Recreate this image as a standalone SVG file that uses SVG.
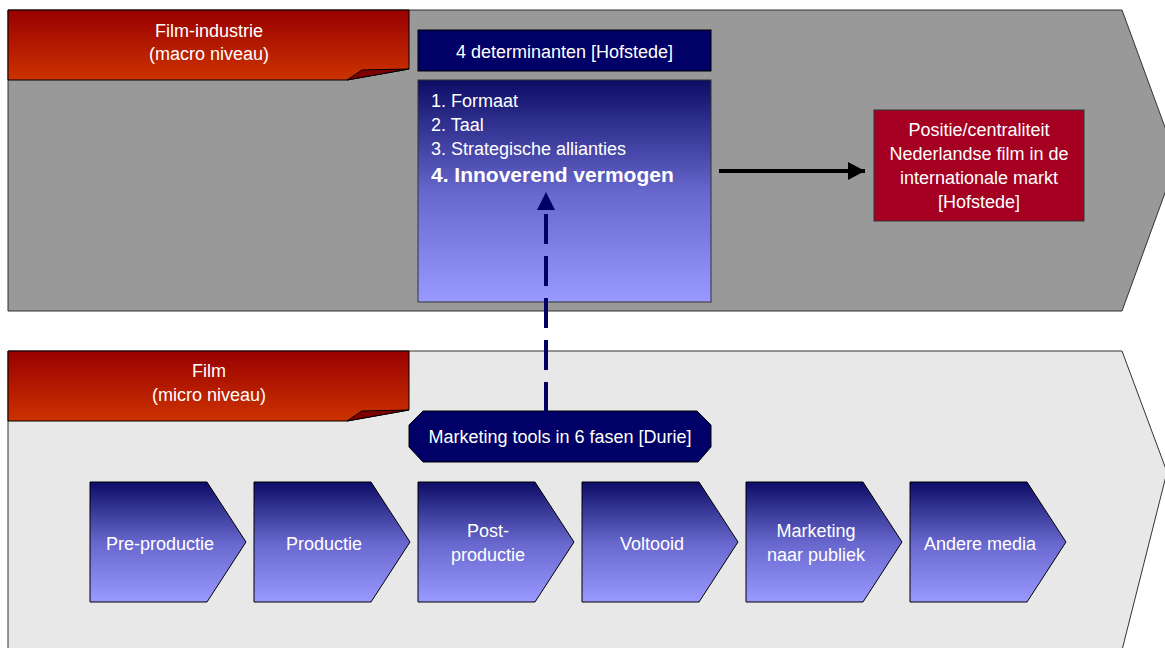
<svg xmlns="http://www.w3.org/2000/svg" width="1165" height="648" viewBox="0 0 1165 648">
  <defs>
    <linearGradient id="gRed" x1="0" y1="0" x2="0" y2="1">
      <stop offset="0" stop-color="#990000"/>
      <stop offset="1" stop-color="#CC3300"/>
    </linearGradient>
    <linearGradient id="gBlue" x1="0" y1="0" x2="0" y2="1">
      <stop offset="0" stop-color="#0D0D66"/>
      <stop offset="0.5" stop-color="#6666CC"/>
      <stop offset="1" stop-color="#9999FF"/>
    </linearGradient>
    <marker id="arrBlack" viewBox="0 0 17 18" refX="17" refY="9" markerWidth="17" markerHeight="18" markerUnits="userSpaceOnUse" orient="auto">
      <path d="M0,0 L17,9 L0,18 Z" fill="#000000"/>
    </marker>
  </defs>
  <style>
    text { font-family: "Liberation Sans", Arial, sans-serif; font-size: 18px; fill: #FFFFFF; }
    .c { text-anchor: middle; }
    .b { font-weight: bold; font-size: 21px; }
    .tab { fill: url(#gRed); stroke: #000000; stroke-width: 1; }
    .fold { fill: #800000; stroke: #000000; stroke-width: 1; }
    .step { fill: url(#gBlue); stroke: #000000; stroke-width: 1; }
    .navy { fill: #000066; stroke: #000000; stroke-width: 1; }
  </style>

  <!-- background chevrons -->
  <g id="macro-band">
    <polygon points="8,10 1122,10 1177,160 1122,311 8,311" fill="#999999" stroke="#333333" stroke-width="1"/>
  </g>
  <g id="micro-band">
    <polygon points="8,351 1122,351 1167,472 1119,662 8,662" fill="#E8E8E8" stroke="#333333" stroke-width="1"/>
  </g>

  <!-- tabs -->
  <g id="tab-macro">
    <polygon class="tab" points="8,10 409,10 409,69 347,80 8,80"/>
    <polygon class="fold" points="347,80 362,70 409,69"/>
    <text class="c" x="209" y="37">Film-industrie</text>
    <text class="c" x="209" y="60">(macro niveau)</text>
  </g>
  <g id="tab-micro">
    <polygon class="tab" points="8,351 409,351 409,410 347,421 8,421"/>
    <polygon class="fold" points="347,421 362,411 409,410"/>
    <text class="c" x="209" y="377">Film</text>
    <text class="c" x="209" y="401">(micro niveau)</text>
  </g>

  <!-- determinants -->
  <g id="determinanten-header">
    <rect class="navy" x="418" y="30" width="293" height="41"/>
    <text class="c" x="564.5" y="58">4 determinanten [Hofstede]</text>
  </g>
  <g id="determinanten-list">
    <rect x="418" y="80" width="293" height="222" fill="url(#gBlue)" stroke="#333333" stroke-width="1"/>
    <text x="431" y="107">1. Formaat</text>
    <text x="431" y="131">2. Taal</text>
    <text x="431" y="155">3. Strategische allianties</text>
    <text class="b" x="431" y="182">4. Innoverend vermogen</text>
  </g>

  <!-- position -->
  <g id="positie">
    <rect x="874" y="110" width="210" height="111" fill="#A50021" stroke="#333333" stroke-width="1"/>
    <text class="c" x="979" y="136">Positie/centraliteit</text>
    <text class="c" x="979" y="160">Nederlandse film in de</text>
    <text class="c" x="979" y="184">internationale markt</text>
    <text class="c" x="979" y="208">[Hofstede]</text>
  </g>

  <!-- marketing tools -->
  <g id="marketing-tools">
    <polygon class="navy" points="423,411 697,411 711,425 711,447 698,462 423,462 409,447 409,425"/>
    <text class="c" x="560" y="443">Marketing tools in 6 fasen [Durie]</text>
  </g>

  <!-- phases -->
  <g id="fase-1">
    <polygon class="step" points="90,482 207,482 246,542 207,602 90,602"/>
    <text class="c" x="160" y="550">Pre-productie</text>
  </g>
  <g id="fase-2">
    <polygon class="step" points="254,482 371,482 410,542 371,602 254,602"/>
    <text class="c" x="324" y="550">Productie</text>
  </g>
  <g id="fase-3">
    <polygon class="step" points="418,482 535,482 574,542 535,602 418,602"/>
    <text class="c" x="488" y="537">Post-</text>
    <text class="c" x="488" y="561">productie</text>
  </g>
  <g id="fase-4">
    <polygon class="step" points="582,482 699,482 738,542 699,602 582,602"/>
    <text class="c" x="652" y="550">Voltooid</text>
  </g>
  <g id="fase-5">
    <polygon class="step" points="746,482 863,482 902,542 863,602 746,602"/>
    <text class="c" x="816" y="537">Marketing</text>
    <text class="c" x="816" y="561">naar publiek</text>
  </g>
  <g id="fase-6">
    <polygon class="step" points="910,482 1027,482 1066,542 1027,602 910,602"/>
    <text class="c" x="980" y="550">Andere media</text>
  </g>

  <!-- connectors -->
  <g id="connectors">
    <line x1="719" y1="171" x2="865" y2="171" stroke="#000000" stroke-width="4" marker-end="url(#arrBlack)"/>
    <line x1="546" y1="412" x2="546" y2="212" stroke="#000066" stroke-width="4" stroke-dasharray="30 12"/>
    <polygon points="546,192 555,210 537,210" fill="#000066"/>
  </g>
</svg>
